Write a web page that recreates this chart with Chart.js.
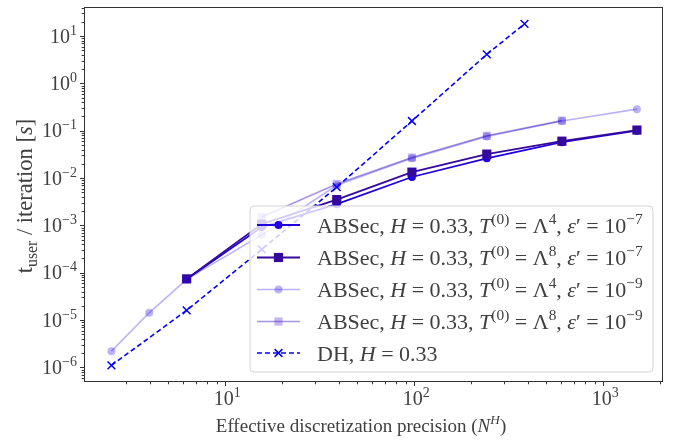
<!DOCTYPE html>
<html>
<head>
<meta charset="utf-8">
<script src="https://cdn.jsdelivr.net/npm/chart.js@4"></script>
<style>
  html, body { margin: 0; padding: 0; background: #ffffff; }
  canvas { display: block; }
</style>
</head>
<body>
<canvas id="chart" width="677" height="440"></canvas>
<script>
// ---- measured timings (seconds per iteration) vs effective precision N^H ----
const absecL4e7X = [6.25, 15.6, 38.9, 97.2, 242, 604, 1507];
const absecL4e7Y = [7.3e-5, 9.2e-4, 2.8e-3, 1.05e-2, 2.6e-2, 5.7e-2, 1.0e-1];

const absecL8e7X = [6.25, 15.6, 38.9, 97.2, 242, 604, 1507];
const absecL8e7Y = [7.4e-5, 1.06e-3, 3.5e-3, 1.33e-2, 3.2e-2, 6.0e-2, 1.03e-1];

const absecL4e9X = [2.5, 3.96, 6.25, 15.6, 38.9, 97.2, 242, 604, 1507];
const absecL4e9Y = [2.2e-6, 1.42e-5, 7.2e-5, 6.3e-4, 7.0e-3, 2.6e-2, 7.5e-2, 1.6e-1, 2.85e-1];

const absecL8e9X = [15.6, 38.9, 97.2, 242, 604];
const absecL8e9Y = [1.5e-3, 7.5e-3, 2.7e-2, 7.8e-2, 1.63e-1];

const dhX = [2.5, 6.25, 15.6, 38.9, 97.2, 242, 383];
const dhY = [1.1e-6, 1.6e-5, 3.1e-4, 6.4e-3, 1.6e-1, 4.1, 18];

// axis ranges
const xRange = [1.79, 2070];
const yRange = [4.9e-7, 41];

// rich-text helpers: plain, italic, superscript, italic superscript, subscript
const n = t => ({ t });
const it = t => ({ t, i: true });
const sup = t => ({ t, sup: true });
const supI = t => ({ t, sup: true, i: true });
const sub = t => ({ t, sub: true });

// legend labels
const seriesLabels = [
  [n('ABSec, '), it('H'), n(' = 0.33, '), it('T'), sup('(0)'), n(' = Λ'), sup('4'), n(', '), it('ε'), n('′ = 10'), sup('−7')],
  [n('ABSec, '), it('H'), n(' = 0.33, '), it('T'), sup('(0)'), n(' = Λ'), sup('8'), n(', '), it('ε'), n('′ = 10'), sup('−7')],
  [n('ABSec, '), it('H'), n(' = 0.33, '), it('T'), sup('(0)'), n(' = Λ'), sup('4'), n(', '), it('ε'), n('′ = 10'), sup('−9')],
  [n('ABSec, '), it('H'), n(' = 0.33, '), it('T'), sup('(0)'), n(' = Λ'), sup('8'), n(', '), it('ε'), n('′ = 10'), sup('−9')],
  [n('DH, '), it('H'), n(' = 0.33')]
];
const xTitle = [n('Effective discretization precision ('), it('N'), supI('H'), n(')')];
const yTitle = [n('t'), sub('user'), n(' / iteration ['), it('s'), n(']')];

const SERIF = '"Liberation Serif", "DejaVu Serif", serif';
const INK = '#404040';
const FRAME = '#333333';

function fontFor(seg, size) {
  const sz = (seg.sup || seg.sub) ? size * 0.7 : size;
  return (seg.i ? 'italic ' : '') + sz.toFixed(2) + 'px ' + SERIF;
}
function measureRich(ctx, segs, size) {
  let w = 0;
  for (const s of segs) { ctx.font = fontFor(s, size); w += ctx.measureText(s.t).width; }
  return w;
}
function drawRich(ctx, segs, x, y, size, align) {
  const w = measureRich(ctx, segs, size);
  let cx = align === 'center' ? x - w / 2 : align === 'right' ? x - w : x;
  ctx.textAlign = 'left';
  ctx.textBaseline = 'alphabetic';
  for (const s of segs) {
    ctx.font = fontFor(s, size);
    const dy = s.sup ? -size * 0.4 : s.sub ? size * 0.22 : 0;
    ctx.fillText(s.t, cx, y + dy);
    cx += ctx.measureText(s.t).width;
  }
}

const pts = (xs, ys) => xs.map((x, i) => ({ x, y: ys[i] }));

const datasets = [
  { data: pts(absecL4e7X, absecL4e7Y), borderColor: '#2000e0', backgroundColor: '#2000e0',
    borderWidth: 1.8, pointStyle: 'circle', pointRadius: 4, order: 4 },
  { data: pts(absecL8e7X, absecL8e7Y), borderColor: '#36099e', backgroundColor: '#36099e',
    borderWidth: 1.8, pointStyle: 'rect', pointRadius: 6.5, order: 3 },
  { data: pts(absecL4e9X, absecL4e9Y), borderColor: 'rgba(32,0,224,0.3)', backgroundColor: 'rgba(32,0,224,0.3)',
    borderWidth: 1.6, pointStyle: 'circle', pointRadius: 4, order: 2 },
  { data: pts(absecL8e9X, absecL8e9Y), borderColor: 'rgba(60,20,200,0.45)', backgroundColor: 'rgba(60,20,200,0.3)',
    borderWidth: 1.6, pointStyle: 'rect', pointRadius: 5.8, order: 1 },
  { data: pts(dhX, dhY), borderColor: '#0000ff', backgroundColor: '#0000ff',
    borderWidth: 1.6, borderDash: [5, 3], pointStyle: 'crossRot', pointRadius: 5.5, pointBorderWidth: 1.5, order: 0 }
];
datasets.forEach(d => { d.pointBorderWidth = d.pointBorderWidth || 0; d.pointBorderColor = d.borderColor; d.fill = false; d.tension = 0; });

// keep only ticks at 1..9 x 10^k
function niceTicks(scale) {
  scale.ticks = scale.ticks.filter(t => {
    const e = Math.floor(Math.log10(t.value) + 1e-9);
    const m = t.value / Math.pow(10, e);
    return Math.abs(m - Math.round(m)) < 1e-6 && t.value >= scale.min && t.value <= scale.max;
  });
}
function isDecade(v) {
  const l = Math.log10(v);
  return Math.abs(l - Math.round(l)) < 1e-6;
}
function expLabel(v) {
  const e = Math.round(Math.log10(v));
  return [n('10'), sup(e < 0 ? '−' + Math.abs(e) : String(e))];
}

const decorations = {
  id: 'decorations',
  afterDraw(chart) {
    const ctx = chart.ctx;
    const a = chart.chartArea;
    const xs = chart.scales.x, ys = chart.scales.y;
    ctx.save();

    // frame
    ctx.strokeStyle = FRAME;
    ctx.lineWidth = 1;
    ctx.strokeRect(Math.round(a.left) + 0.5, Math.round(a.top) + 0.5,
                   Math.round(a.right - a.left) - 1, Math.round(a.bottom - a.top) - 1);

    // tick marks
    ctx.beginPath();
    for (const t of xs.ticks) {
      const px = Math.round(xs.getPixelForValue(t.value)) + 0.5;
      const len = isDecade(t.value) ? 4 : 2.3;
      ctx.moveTo(px, a.bottom); ctx.lineTo(px, a.bottom + len);
    }
    for (const t of ys.ticks) {
      const py = Math.round(ys.getPixelForValue(t.value)) + 0.5;
      const len = isDecade(t.value) ? 4 : 2.3;
      ctx.moveTo(a.left, py); ctx.lineTo(a.left - len, py);
    }
    ctx.stroke();

    // tick labels
    ctx.fillStyle = INK;
    for (const t of xs.ticks) {
      if (!isDecade(t.value)) continue;
      drawRich(ctx, expLabel(t.value), xs.getPixelForValue(t.value) + 2, a.bottom + 23, 20, 'center');
    }
    for (const t of ys.ticks) {
      if (!isDecade(t.value)) continue;
      drawRich(ctx, expLabel(t.value), a.left - 7, ys.getPixelForValue(t.value) + 6.5, 20, 'right');
    }

    // axis titles
    drawRich(ctx, xTitle, 361, 432, 19, 'center');
    ctx.save();
    ctx.translate(32, 196);
    ctx.rotate(-Math.PI / 2);
    drawRich(ctx, yTitle, 0, 0, 22.5, 'center');
    ctx.restore();

    // legend
    const lx = 250, ly = 206, lw = 403, lh = 166, r = 4;
    ctx.beginPath();
    ctx.moveTo(lx + r, ly);
    ctx.arcTo(lx + lw, ly, lx + lw, ly + lh, r);
    ctx.arcTo(lx + lw, ly + lh, lx, ly + lh, r);
    ctx.arcTo(lx, ly + lh, lx, ly, r);
    ctx.arcTo(lx, ly, lx + lw, ly, r);
    ctx.closePath();
    ctx.fillStyle = 'rgba(255,255,255,0.8)';
    ctx.fill();
    ctx.strokeStyle = '#d4d4d4';
    ctx.lineWidth = 1;
    ctx.stroke();

    const rowY = [225, 257.5, 289.5, 321.5, 353];
    chart.data.datasets.forEach((d, i) => {
      const y = rowY[i];
      ctx.save();
      ctx.strokeStyle = d.borderColor;
      ctx.lineWidth = d.borderWidth;
      ctx.setLineDash(d.borderDash || []);
      ctx.beginPath();
      ctx.moveTo(257, y); ctx.lineTo(300, y);
      ctx.stroke();
      ctx.setLineDash([]);
      ctx.fillStyle = d.backgroundColor;
      ctx.strokeStyle = d.pointBorderColor;
      ctx.lineWidth = d.pointBorderWidth;
      Chart.helpers.drawPoint(ctx, {
        pointStyle: d.pointStyle, radius: d.pointRadius, rotation: 0,
        borderWidth: d.pointBorderWidth
      }, 278.5, y);
      ctx.restore();
      ctx.fillStyle = INK;
      drawRich(ctx, seriesLabels[i], 317, y + 7.5, 22, 'left');
    });

    ctx.restore();
  }
};

new Chart(document.getElementById('chart'), {
  type: 'line',
  data: { datasets },
  options: {
    responsive: false,
    animation: false,
    devicePixelRatio: 1,
    layout: { padding: { top: 7, right: 14, left: 0, bottom: 0 } },
    plugins: { legend: { display: false }, tooltip: { enabled: false } },
    scales: {
      x: {
        type: 'logarithmic', min: xRange[0], max: xRange[1],
        ticks: { display: false }, grid: { display: false }, border: { display: false },
        afterBuildTicks: niceTicks,
        afterFit: s => { s.height = 58; }
      },
      y: {
        type: 'logarithmic', min: yRange[0], max: yRange[1],
        ticks: { display: false }, grid: { display: false }, border: { display: false },
        afterBuildTicks: niceTicks,
        afterFit: s => { s.width = 84; }
      }
    }
  },
  plugins: [decorations]
});
</script>
</body>
</html>
